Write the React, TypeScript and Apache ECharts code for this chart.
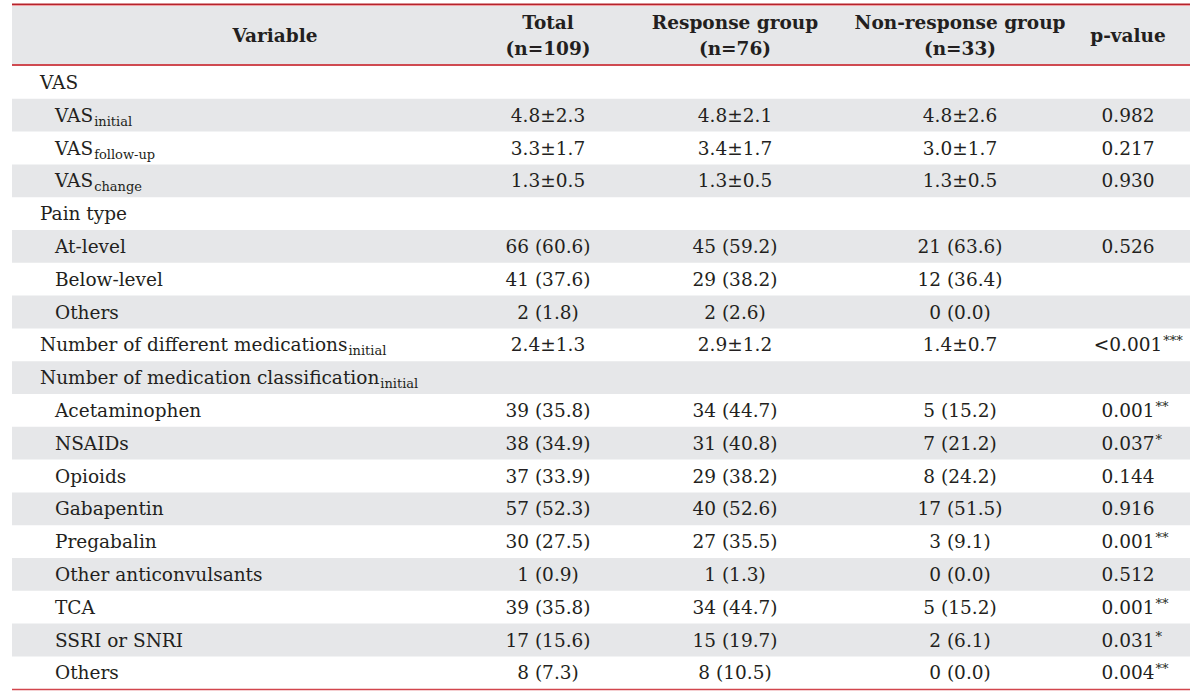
import React, { useEffect, useRef } from "react";
import * as echarts from "echarts";

const headerLabels = ["Variable", "Total\n(n=109)", "Response group\n(n=76)", "Non-response group\n(n=33)", "p-value"];
const varLabels = [
  "VAS", "VAS", "VAS", "VAS", "Pain type", "At-level", "Below-level", "Others",
  "Number of different medications", "Number of medication classification",
  "Acetaminophen", "NSAIDs", "Opioids", "Gabapentin", "Pregabalin",
  "Other anticonvulsants", "TCA", "SSRI or SNRI", "Others",
];
const varSubs = ["", "initial", "follow-up", "change", "", "", "", "", "initial", "initial", "", "", "", "", "", "", "", "", ""];
const varIndent = [0, 1, 1, 1, 0, 1, 1, 1, 0, 0, 1, 1, 1, 1, 1, 1, 1, 1, 1];
const totalVals = ["", "4.8±2.3", "3.3±1.7", "1.3±0.5", "", "66 (60.6)", "41 (37.6)", "2 (1.8)", "2.4±1.3", "", "39 (35.8)", "38 (34.9)", "37 (33.9)", "57 (52.3)", "30 (27.5)", "1 (0.9)", "39 (35.8)", "17 (15.6)", "8 (7.3)"];
const responseVals = ["", "4.8±2.1", "3.4±1.7", "1.3±0.5", "", "45 (59.2)", "29 (38.2)", "2 (2.6)", "2.9±1.2", "", "34 (44.7)", "31 (40.8)", "29 (38.2)", "40 (52.6)", "27 (35.5)", "1 (1.3)", "34 (44.7)", "15 (19.7)", "8 (10.5)"];
const nonResponseVals = ["", "4.8±2.6", "3.0±1.7", "1.3±0.5", "", "21 (63.6)", "12 (36.4)", "0 (0.0)", "1.4±0.7", "", "5 (15.2)", "7 (21.2)", "8 (24.2)", "17 (51.5)", "3 (9.1)", "0 (0.0)", "5 (15.2)", "2 (6.1)", "0 (0.0)"];
const pValues = ["", "0.982", "0.217", "0.930", "", "0.526", "", "", "<0.001", "", "0.001", "0.037", "0.144", "0.916", "0.001", "0.512", "0.001", "0.031", "0.004"];
const pStars = ["", "", "", "", "", "", "", "", "***", "", "**", "*", "", "", "**", "", "**", "*", "**"];

const FONT = '"DejaVu Serif", serif';
const TXT = "#231f20";
const GREY = "#e6e7e9";

export default function App() {
  const ref = useRef<HTMLDivElement>(null);
  useEffect(() => {
    if (!ref.current) return;
    const chart = echarts.init(ref.current, null, { renderer: "svg" });
    const ctx = document.createElement("canvas").getContext("2d")!;
    const tw = (t: string, size: number, weight = "normal") => {
      ctx.font = `${weight} ${size}px ${FONT}`;
      return ctx.measureText(t).width;
    };

    const left = 12;
    const right = 1190;
    const headTop = 5;
    const headBottom = 65;
    const rowTop = 66;
    const rowH = 32.8;
    const colCenters = [275, 548, 735, 960, 1128];
    const bodySize = 18.5;
    const subSize = 13;
    const headSize = 18.5;
    const els: any[] = [];

    els.push({ type: "rect", shape: { x: left, y: headTop, width: right - left, height: headBottom - headTop }, style: { fill: GREY } });
    varLabels.forEach((_, i) => {
      if (i % 2 === 1) {
        els.push({ type: "rect", shape: { x: left, y: rowTop + i * rowH, width: right - left, height: rowH }, style: { fill: GREY } });
      }
    });
    // rules
    els.push({ type: "rect", shape: { x: left, y: 3.5, width: right - left, height: 1.5 }, style: { fill: "#b5232b" } });
    els.push({ type: "rect", shape: { x: left, y: 5, width: right - left, height: 1 }, style: { fill: "#f0a0a4" } });
    els.push({ type: "rect", shape: { x: left, y: headBottom - 1, width: right - left, height: 2 }, style: { fill: "#cf4a51" } });
    const bottomY = rowTop + varLabels.length * rowH;
    els.push({ type: "rect", shape: { x: left, y: bottomY - 0.5, width: right - left, height: 1.6 }, style: { fill: "#d2464d" } });

    // header
    headerLabels.forEach((h, j) => {
      els.push({
        type: "text", x: colCenters[j], y: (headTop + headBottom) / 2,
        style: { text: h, fontFamily: FONT, fontSize: headSize, fontWeight: "bold", fill: TXT, textAlign: "center", textVerticalAlign: "middle", align: "center", verticalAlign: "middle", lineHeight: 26 },
      });
    });

    varLabels.forEach((lab, i) => {
      const cy = rowTop + i * rowH + rowH / 2;
      const x0 = varIndent[i] ? 55 : 40;
      els.push({ type: "text", x: x0, y: cy, style: { text: lab, fontFamily: FONT, fontSize: bodySize, fill: TXT, textAlign: "left", textVerticalAlign: "middle", align: "left", verticalAlign: "middle" } });
      if (varSubs[i]) {
        els.push({ type: "text", x: x0 + tw(lab, bodySize) + 1, y: cy + 6, style: { text: varSubs[i], fontFamily: FONT, fontSize: subSize, fill: TXT, textAlign: "left", textVerticalAlign: "middle", align: "left", verticalAlign: "middle" } });
      }
      [totalVals, responseVals, nonResponseVals].forEach((arr, k) => {
        if (arr[i]) {
          els.push({ type: "text", x: colCenters[k + 1], y: cy, style: { text: arr[i], fontFamily: FONT, fontSize: bodySize, fill: TXT, textAlign: "center", textVerticalAlign: "middle", align: "center", verticalAlign: "middle" } });
        }
      });
      if (pValues[i]) {
        els.push({ type: "text", x: colCenters[4], y: cy, style: { text: pValues[i], fontFamily: FONT, fontSize: bodySize, fill: TXT, textAlign: "center", textVerticalAlign: "middle", align: "center", verticalAlign: "middle" } });
        if (pStars[i]) {
          const w = tw(pValues[i], bodySize);
          els.push({ type: "text", x: colCenters[4] + w / 2 + 1, y: cy - 4, style: { text: pStars[i], fontFamily: FONT, fontSize: 13, fill: TXT, textAlign: "left", textVerticalAlign: "middle", align: "left", verticalAlign: "middle" } });
        }
      }
    });

    chart.setOption({ animation: false, graphic: { elements: els } });
    return () => chart.dispose();
  }, []);
  return <div ref={ref} style={{ position: "absolute", left: 0, top: 0, width: 1200, height: 696, background: "#fff" }} />;
}
